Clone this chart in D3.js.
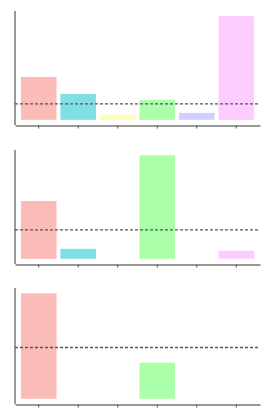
<!DOCTYPE html>
<html>
<head>
  <meta charset="utf-8">
  <script src="https://d3js.org/d3.v7.min.js"></script>
  <style>
    body { margin:0; background:#fff; }
  </style>
</head>
<body>
  <script>
    // categories (no labels shown on the chart)
    var categories = ["A", "B", "C", "D", "E", "F"];
    var colors = ["#FBBBB6", "#80DFE2", "#FFFFB3", "#AAFFA8", "#D0D0FF", "#FFCCFF"];

    // one series per panel, plus the dashed reference value
    var panel1 = [43, 26, 5, 20, 7, 104];
    var panel2 = [58, 10, 0, 104, 0, 8];
    var panel3 = [105, 0, 0, 36, 0, 0];
    var refs = [16, 29, 51];

    var panels = [panel1, panel2, panel3];
    // vertical extents of each panel: [top, axis]
    var boxes = [[11, 125], [150, 264], [288, 404]];

    var left = 15, right = 260;

    var svg = d3.select("body").append("svg")
      .attr("width", 273)
      .attr("height", 417);

    var x = d3.scaleBand()
      .domain(categories)
      .range([left, right])
      .paddingInner(0.1)
      .paddingOuter(0.15);

    panels.forEach(function(values, p) {
      var top = boxes[p][0], bottom = boxes[p][1];
      var max = d3.max(values);
      // 5% expansion on both ends
      var y = d3.scaleLinear()
        .domain([-0.05 * max, 1.05 * max])
        .range([bottom, top]);

      var rows = values.map(function(v, i) {
        return {cat: categories[i], value: v, color: colors[i]};
      }).filter(function(d) { return d.value > 0; });

      var g = svg.append("g");

      g.selectAll("rect")
        .data(rows)
        .enter()
        .append("rect")
        .attr("x", function(d) { return x(d.cat); })
        .attr("y", function(d) { return y(d.value); })
        .attr("width", x.bandwidth())
        .attr("height", function(d) { return y(0) - y(d.value); })
        .attr("fill", function(d) { return d.color; });

      // dashed reference line
      g.append("line")
        .attr("x1", left)
        .attr("x2", right)
        .attr("y1", y(refs[p]))
        .attr("y2", y(refs[p]))
        .attr("stroke", "#555")
        .attr("stroke-width", 1.3)
        .attr("stroke-dasharray", "3,2");

      // x axis with ticks at band centres, no labels
      var xAxis = g.append("g")
        .attr("transform", "translate(0," + (bottom + 0.5) + ")")
        .call(d3.axisBottom(x).tickSize(3).tickSizeOuter(0).tickFormat(""));
      xAxis.select(".domain").attr("stroke", "#333");
      xAxis.selectAll(".tick line").attr("stroke", "#555");

      // y axis line only
      g.append("line")
        .attr("x1", left)
        .attr("x2", left)
        .attr("y1", top)
        .attr("y2", bottom)
        .attr("stroke", "#555")
        .attr("stroke-width", 1.2);
    });
  </script>
</body>
</html>
